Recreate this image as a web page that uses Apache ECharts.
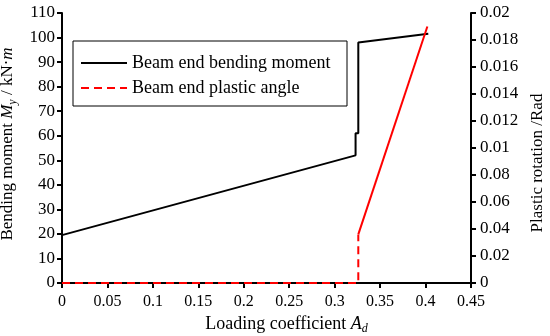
<!DOCTYPE html>
<html>
<head>
<meta charset="utf-8">
<script src="https://cdn.jsdelivr.net/npm/echarts@6/dist/echarts.min.js"></script>
<style>html,body{margin:0;padding:0;background:#fff}#c{width:550px;height:336px}</style>
</head>
<body>
<div id="c"></div>
<script>
// Data
const momentX = [0, 0.323, 0.323, 0.326, 0.326, 0.403];
const momentY = [19.5, 52, 61, 61, 98, 101.5];
const angleDashX = [0, 0.326, 0.326];
const angleDashY = [0, 0, 0.0036];
const angleSolidX = [0.326, 0.402];
const angleSolidY = [0.0036, 0.019];
const xTickLabels = ['0','0.05','0.1','0.15','0.2','0.25','0.3','0.35','0.4','0.45'];
const leftTickLabels = ['0','10','20','30','40','50','60','70','80','90','100','110'];
const rightTickLabels = ['0','0.02','0.04','0.06','0.08','0.01','0.012','0.014','0.016','0.018','0.02'];

const zip = (a, b) => a.map((v, i) => [v, b[i]]);
const FONT = '"Liberation Serif","Times New Roman",serif';

const chart = echarts.init(document.getElementById('c'), null, {renderer: 'canvas'});
chart.setOption({
  animation: false,
  backgroundColor: '#fff',
  textStyle: {fontFamily: FONT, color: '#000'},
  grid: {left: 62, right: 79, top: 13, bottom: 53, containLabel: false, outerBoundsMode: 'none'},
  legend: {
    left: 73, top: 41,
    orient: 'vertical',
    borderColor: '#000', borderWidth: 1,
    padding: [12, 7, 8, 7],
    itemWidth: 46, itemHeight: 14, itemGap: 5,
    itemStyle: {opacity: 0},
    data: ['Beam end bending moment', 'Beam end plastic angle'],
    textStyle: {fontFamily: FONT, fontSize: 18, color: '#000', lineHeight: 20, width: 208}
  },
  xAxis: {
    type: 'value', min: 0, max: 0.45, interval: 0.05,
    name: 'Loading coefficient {i|A}{sub|d}',
    nameLocation: 'middle', nameGap: 30,
    nameTextStyle: {
      fontFamily: FONT, fontSize: 18, color: '#000', padding: [0, 0, 0, 40],
      rich: {
        i: {fontFamily: FONT, fontSize: 18, fontStyle: 'italic', color: '#000'},
        sub: {fontFamily: FONT, fontSize: 12, fontStyle: 'italic', color: '#000', padding: [10, 0, 0, 0]}
      }
    },
    axisLine: {show: true, lineStyle: {color: '#000', width: 2}},
    axisTick: {show: true, inside: false, length: 5, lineStyle: {color: '#000', width: 2}},
    axisLabel: {fontFamily: FONT, fontSize: 16, color: '#000', margin: 11,
      formatter: v => xTickLabels[Math.round(v / 0.05)]},
    splitLine: {show: false}
  },
  yAxis: [{
    type: 'value', min: 0, max: 110, interval: 10,
    name: '{n|Bending moment }{i|M}{sub|y}{n| / kN\u00b7}{i|m}',
    nameLocation: 'middle', nameGap: 40, nameRotate: 90,
    nameTextStyle: {
      fontFamily: FONT, fontSize: 17, color: '#000', padding: [0, 0, 0, 8],
      rich: {
        n: {fontFamily: FONT, fontSize: 17, color: '#000'},
        i: {fontFamily: FONT, fontSize: 17, fontStyle: 'italic', color: '#000'},
        sub: {fontFamily: FONT, fontSize: 12, fontStyle: 'italic', color: '#000', padding: [10, 0, 0, 0]}
      }
    },
    axisLine: {show: true, lineStyle: {color: '#000', width: 2}},
    axisTick: {show: true, inside: false, length: 5, lineStyle: {color: '#000', width: 2}},
    axisLabel: {fontFamily: FONT, fontSize: 17, color: '#000', margin: 7,
      formatter: v => leftTickLabels[Math.round(v / 10)]},
    splitLine: {show: false}
  }, {
    type: 'value', min: 0, max: 0.02, interval: 0.002, position: 'right',
    name: 'Plastic rotation /Rad',
    nameLocation: 'middle', nameGap: 56, nameRotate: 90,
    nameTextStyle: {fontFamily: FONT, fontSize: 17, color: '#000', padding: [0, 30, 0, 0]},
    axisLine: {show: true, lineStyle: {color: '#000', width: 2}},
    axisTick: {show: true, inside: false, length: 5, lineStyle: {color: '#000', width: 2}},
    axisLabel: {fontFamily: FONT, fontSize: 17, color: '#000', margin: 9,
      formatter: v => rightTickLabels[Math.round(v / 0.002)]},
    splitLine: {show: false}
  }],
  series: [{
    name: 'Beam end bending moment', type: 'line', yAxisIndex: 0,
    data: zip(momentX, momentY), showSymbol: false, symbol: 'none',
    lineStyle: {color: '#000', width: 2}, itemStyle: {color: '#000'}, z: 3
  }, {
    name: 'Beam end plastic angle', type: 'line', yAxisIndex: 1,
    data: zip(angleDashX, angleDashY), showSymbol: false, symbol: 'none',
    lineStyle: {color: '#ff0000', width: 2, type: [8, 5]}, itemStyle: {color: '#ff0000'}, z: 4
  }, {
    name: 'plastic solid', type: 'line', yAxisIndex: 1,
    data: zip(angleSolidX, angleSolidY), showSymbol: false, symbol: 'none',
    lineStyle: {color: '#ff0000', width: 2}, itemStyle: {color: '#ff0000'}, z: 4
  }]
});
</script>
</body>
</html>
